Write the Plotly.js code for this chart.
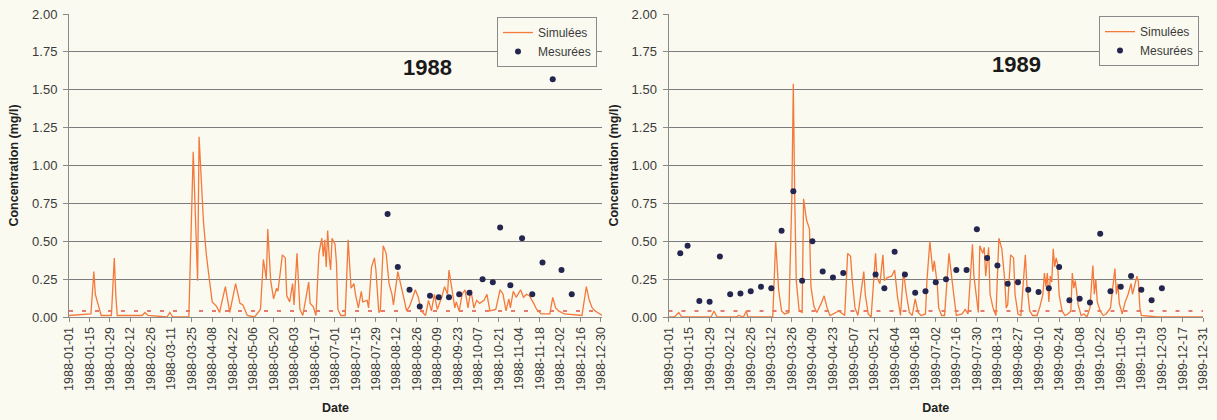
<!DOCTYPE html>
<html>
<head>
<meta charset="utf-8">
<script src="https://cdn.plot.ly/plotly-3.0.1.min.js"></script>
<style>html,body{margin:0;padding:0;background:#fafaf0;}#chart{width:1217px;height:420px;}</style>
</head>
<body>
<div id="chart"></div>
<script>
// ---- Data ----
// Day offsets from 1 January of each year, and concentrations in mg/l
const sim1988Day = [0,15,17,18,20,22,29,31,32,33,50,52,54,67,69,71,82,84,85,88,89,92,94,96,98,101,103,107,110,114,117,119,122,127,131,133,135,136,138,140,142,143,146,148,149,151,153,154,156,158,160,164,165,167,169,171,173,174,175,176,177,178,179,180,182,183,184,186,189,191,192,193,195,196,198,200,201,204,205,207,209,210,212,213,215,217,219,221,222,224,225,229,231,233,237,239,241,244,246,248,250,252,255,257,259,260,262,264,265,267,269,271,273,275,277,279,281,284,286,288,292,295,297,299,301,302,304,306,309,311,313,315,318,320,323,329,331,333,335,339,351,354,356,358,360,365];
const sim1988Val = [0.01,0.02,0.30,0.15,0.08,0.01,0.01,0.39,0.15,0.01,0.01,0.03,0.01,0.00,0.03,0.00,0.00,0.70,1.09,0.24,1.19,0.63,0.41,0.25,0.10,0.07,0.03,0.20,0.03,0.22,0.09,0.08,0.01,0.00,0.05,0.38,0.25,0.58,0.24,0.12,0.19,0.17,0.41,0.39,0.14,0.10,0.22,0.08,0.42,0.05,0.01,0.23,0.09,0.07,0.01,0.42,0.52,0.40,0.51,0.33,0.57,0.40,0.31,0.52,0.48,0.36,0.05,0.01,0.01,0.51,0.33,0.19,0.22,0.15,0.06,0.17,0.10,0.11,0.06,0.33,0.39,0.31,0.03,0.04,0.47,0.42,0.22,0.15,0.08,0.25,0.30,0.13,0.04,0.07,0.18,0.13,0.04,0.01,0.11,0.04,0.15,0.05,0.13,0.20,0.15,0.31,0.18,0.06,0.10,0.04,0.15,0.18,0.06,0.18,0.06,0.11,0.09,0.11,0.15,0.04,0.05,0.18,0.15,0.04,0.12,0.06,0.17,0.13,0.18,0.13,0.15,0.14,0.09,0.05,0.02,0.02,0.13,0.06,0.04,0.02,0.01,0.20,0.11,0.06,0.04,0.01];

const meas1988Day = [218,225,233,240,247,253,260,267,274,283,290,295,302,310,317,324,331,337,344];
const meas1988Val = [0.68,0.33,0.18,0.07,0.14,0.13,0.13,0.15,0.16,0.25,0.23,0.59,0.21,0.52,0.15,0.36,1.57,0.31,0.15];

const sim1989Day = [0,4,7,9,29,31,33,46,48,51,53,54,71,73,75,77,79,82,84,85,86,87,89,91,92,94,96,97,99,101,104,106,108,110,116,120,122,124,125,127,129,133,134,136,138,141,142,144,146,147,149,152,154,156,158,160,162,164,166,168,170,172,175,176,178,180,181,183,184,186,188,190,191,193,195,196,200,202,204,207,208,210,211,212,214,215,216,218,219,221,223,224,225,227,229,230,231,233,235,236,238,240,243,244,246,248,251,253,255,256,257,258,259,260,261,262,263,264,265,266,268,270,272,274,275,276,277,279,280,281,283,285,287,289,290,291,292,294,296,298,301,302,304,305,306,307,309,311,313,315,316,319,320,321,322,333,364];
const sim1989Val = [0.00,0.00,0.03,0.00,0.00,0.04,0.00,0.00,0.01,0.00,0.04,0.00,0.00,0.50,0.18,0.04,0.02,0.03,0.79,1.54,0.77,0.24,0.04,0.03,0.78,0.64,0.58,0.20,0.07,0.03,0.09,0.14,0.06,0.01,0.04,0.01,0.42,0.40,0.26,0.06,0.01,0.30,0.15,0.02,0.00,0.42,0.26,0.22,0.41,0.24,0.26,0.27,0.31,0.13,0.01,0.30,0.15,0.03,0.01,0.12,0.03,0.01,0.02,0.24,0.50,0.30,0.37,0.22,0.06,0.01,0.01,0.33,0.42,0.25,0.06,0.01,0.02,0.05,0.02,0.48,0.27,0.08,0.03,0.47,0.42,0.46,0.27,0.46,0.15,0.06,0.01,0.27,0.52,0.45,0.24,0.06,0.08,0.41,0.39,0.15,0.02,0.01,0.41,0.22,0.04,0.01,0.01,0.07,0.15,0.29,0.20,0.29,0.10,0.27,0.23,0.45,0.33,0.39,0.35,0.15,0.04,0.01,0.02,0.04,0.29,0.19,0.24,0.08,0.04,0.01,0.02,0.00,0.06,0.34,0.15,0.25,0.10,0.04,0.01,0.02,0.06,0.15,0.32,0.15,0.22,0.09,0.02,0.10,0.15,0.22,0.15,0.27,0.23,0.06,0.01,0.00,0.00];

const meas1989Day = [8,13,21,28,35,42,49,56,63,70,77,85,91,98,105,112,119,141,147,154,161,168,175,182,189,196,203,210,217,224,231,238,245,252,259,266,273,280,287,294,301,308,315,322,329,336];
const meas1989Val = [0.42,0.47,0.105,0.10,0.40,0.15,0.155,0.17,0.20,0.19,0.57,0.83,0.24,0.50,0.30,0.26,0.29,0.28,0.19,0.43,0.28,0.16,0.17,0.23,0.25,0.31,0.31,0.58,0.39,0.34,0.22,0.23,0.18,0.165,0.19,0.33,0.11,0.12,0.095,0.55,0.17,0.20,0.27,0.18,0.11,0.19];

// dashed reference level
const limit1988Dates = ['1988-01-01','1988-12-31'];
const limit1989Dates = ['1989-01-01','1989-12-31'];
const limitVals = [0.04, 0.04];

const ticks1988 = ['1988-01-01','1988-01-15','1988-01-29','1988-02-12','1988-02-26','1988-03-11','1988-03-25','1988-04-08','1988-04-22','1988-05-06','1988-05-20','1988-06-03','1988-06-17','1988-07-01','1988-07-15','1988-07-29','1988-08-12','1988-08-26','1988-09-09','1988-09-23','1988-10-07','1988-10-21','1988-11-04','1988-11-18','1988-12-02','1988-12-16','1988-12-30'];
const ticks1989 = ['1989-01-01','1989-01-15','1989-01-29','1989-02-12','1989-02-26','1989-03-12','1989-03-26','1989-04-09','1989-04-23','1989-05-07','1989-05-21','1989-06-04','1989-06-18','1989-07-02','1989-07-16','1989-07-30','1989-08-13','1989-08-27','1989-09-10','1989-09-24','1989-10-08','1989-10-22','1989-11-05','1989-11-19','1989-12-03','1989-12-17','1989-12-31'];
const yTicks = [0, 0.25, 0.5, 0.75, 1.0, 1.25, 1.5, 1.75, 2.0];

const seriesNames = ['Simulées', 'Mesurées'];
const yearLabels = ['1988', '1989'];

// ---- helpers ----
function toDates(year, days) {
  return days.map(d => new Date(Date.UTC(year, 0, 1) + d * 86400000).toISOString().slice(0, 10));
}

const simColor = '#F4793A';
const measColor = '#24264F';
const limitColor = '#E0504A';
const bg = '#fafaf0';
const gridColor = '#7c7c7c';
const axisColor = '#8a8a8a';
const textColor = '#3a3a3a';

const traces = [
  {x: limit1988Dates, y: limitVals, xaxis: 'x', yaxis: 'y', mode: 'lines', showlegend: false, hoverinfo: 'skip',
   line: {color: limitColor, width: 1.6, dash: '4px,9px'}},
  {x: toDates(1988, sim1988Day), y: sim1988Val, xaxis: 'x', yaxis: 'y', mode: 'lines', name: seriesNames[0], legend: 'legend',
   line: {color: simColor, width: 1.3}},
  {x: toDates(1988, meas1988Day), y: meas1988Val, xaxis: 'x', yaxis: 'y', mode: 'markers', name: seriesNames[1], legend: 'legend',
   marker: {color: measColor, size: 6}},
  {x: limit1989Dates, y: limitVals, xaxis: 'x2', yaxis: 'y2', mode: 'lines', showlegend: false, hoverinfo: 'skip',
   line: {color: limitColor, width: 1.6, dash: '4px,9px'}},
  {x: toDates(1989, sim1989Day), y: sim1989Val, xaxis: 'x2', yaxis: 'y2', mode: 'lines', name: seriesNames[0], legend: 'legend2',
   line: {color: simColor, width: 1.3}},
  {x: toDates(1989, meas1989Day), y: meas1989Val, xaxis: 'x2', yaxis: 'y2', mode: 'markers', name: seriesNames[1], legend: 'legend2',
   marker: {color: measColor, size: 6}}
];

const W = 1217, H = 420;
const mL = 69, mR = 14, mT = 14, mB = 103;
const plotW = W - mL - mR;

function xAxis(ticks, range, domain, anchor) {
  return {
    type: 'date', domain: domain, range: range, anchor: anchor,
    tickmode: 'array', tickvals: ticks, ticktext: ticks, tickangle: -90,
    tickfont: {size: 12.5, color: textColor},
    ticks: 'outside', ticklen: 4, tickcolor: axisColor,
    showline: true, linecolor: axisColor, linewidth: 1,
    showgrid: false, zeroline: false, automargin: false,
    title: {text: 'Date', font: {size: 12.5, color: '#222', weight: 700}, standoff: 13}
  };
}
function yAxis(anchor) {
  return {
    domain: [0, 1], range: [0, 2], anchor: anchor,
    tickmode: 'array', tickvals: yTicks, tickformat: '.2f',
    tickfont: {size: 13, color: textColor},
    ticks: 'outside', ticklen: 5, tickcolor: axisColor, ticklabelstandoff: 3,
    showline: true, linecolor: axisColor, linewidth: 1,
    showgrid: true, gridcolor: gridColor, gridwidth: 1,
    zeroline: false, automargin: false,
    title: {text: 'Concentration (mg/l)', font: {size: 12.5, color: '#222', weight: 700}, standoff: 10}
  };
}

const legendStyle = {
  bgcolor: bg, bordercolor: axisColor, borderwidth: 1,
  font: {size: 12, color: textColor}, itemwidth: 30, tracegroupgap: 0,
  xanchor: 'left', yanchor: 'top'
};

const layout = {
  width: W, height: H,
  margin: {l: mL, r: mR, t: mT, b: mB, pad: 0},
  paper_bgcolor: bg, plot_bgcolor: bg,
  font: {family: '"Liberation Sans", Arial, sans-serif', color: textColor},
  showlegend: true,
  xaxis: xAxis(ticks1988, ['1988-01-01', '1988-12-30 17:00'], [0, (602 - mL) / plotW], 'y'),
  yaxis: yAxis('x'),
  xaxis2: xAxis(ticks1989, ['1989-01-01', '1989-12-31'], [(668.5 - mL) / plotW, 1], 'y2'),
  yaxis2: yAxis('x2'),
  legend: Object.assign({}, legendStyle, {x: (497 - mL) / plotW, y: 0.99}),
  legend2: Object.assign({}, legendStyle, {x: (1099 - mL) / plotW, y: 0.993}),
  annotations: [
    {text: yearLabels[0], xref: 'paper', yref: 'paper', x: (427 - mL) / plotW, y: (317 - 67) / 303,
     xanchor: 'center', yanchor: 'middle', showarrow: false,
     font: {size: 22, color: '#1a1a1a', weight: 700}},
    {text: yearLabels[1], xref: 'paper', yref: 'paper', x: (1016 - mL) / plotW, y: (317 - 64) / 303,
     xanchor: 'center', yanchor: 'middle', showarrow: false,
     font: {size: 22, color: '#1a1a1a', weight: 700}}
  ]
};

Plotly.newPlot('chart', traces, layout, {displayModeBar: false, staticPlot: true});
</script>
</body>
</html>
